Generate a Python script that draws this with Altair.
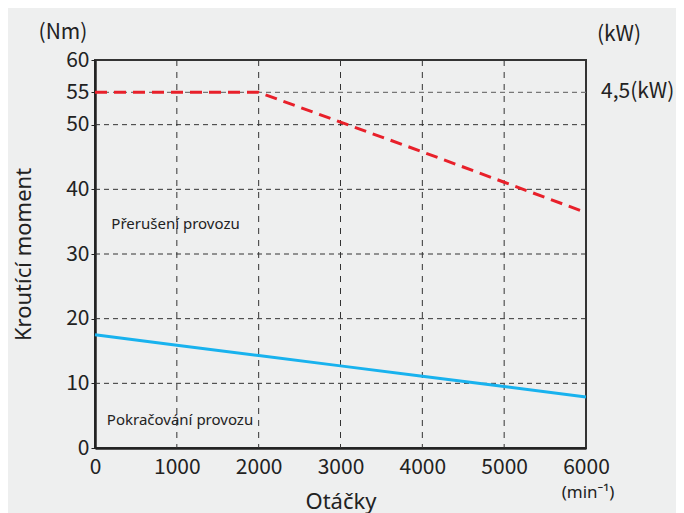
import altair as alt
import pandas as pd

# data
speed = [0, 1000, 2000, 3000, 4000, 5000, 6000]
intermittent = [55, 55, 55, 50.4, 45.8, 41.1, 36.4]
continuous = [17.5, 15.9, 14.3, 12.7, 11.1, 9.5, 7.9]
x_ticks = [0, 1000, 2000, 3000, 4000, 5000, 6000]
y_ticks = [0, 10, 20, 30, 40, 50, 55, 60]
h_grid = [10, 20, 30, 40, 50]
v_grid = [1000, 2000, 3000, 4000, 5000]
power_line = [55]
zone_labels = ["Přerušení provozu", "Pokračování provozu"]
zone_x = [200, 145]
zone_y = [34.6, 4.3]

NUMFONT = "Noto Sans CJK JP"
FONT = "Noto Sans"
W, H = 491, 388

df_red = pd.DataFrame({"rpm": speed, "nm": intermittent})
df_blue = pd.DataFrame({"rpm": speed, "nm": continuous})

xs = alt.Scale(domain=[0, 6000], nice=False, zero=False)
ys = alt.Scale(domain=[0, 60], nice=False, zero=False)

x_axis = alt.Axis(
    values=x_ticks, title="Otáčky", grid=False, ticks=False, labelPadding=8,
    domainColor="#222", domainWidth=2.5, labelFontSize=21, labelColor="#222",
    labelFont=NUMFONT, titleFont=FONT, titleFontSize=22, titleFontWeight="normal",
    titleColor="#222", titlePadding=14, labelFlush=False, format="d")
y_axis = alt.Axis(
    values=y_ticks, title="Kroutící moment", grid=False, tickSize=4, tickColor="#222",
    labelPadding=2, domainColor="#222", domainWidth=2.5, labelFontSize=21,
    labelColor="#222", labelFont=NUMFONT, titleFont=FONT, titleFontSize=22,
    titleFontWeight="normal", titleColor="#222", titlePadding=30, labelFlush=False)

def X():
    return alt.X("rpm:Q", scale=xs, axis=x_axis)

def Y():
    return alt.Y("nm:Q", scale=ys, axis=y_axis)

hg = alt.Chart(pd.DataFrame({"nm": h_grid})).mark_rule(
    color="#333", strokeDash=[5, 4], strokeWidth=1).encode(y=Y())
pg = alt.Chart(pd.DataFrame({"nm": power_line})).mark_rule(
    color="#777", strokeDash=[5, 4], strokeWidth=1.3).encode(y=Y())
vg = alt.Chart(pd.DataFrame({"rpm": v_grid})).mark_rule(
    color="#333", strokeDash=[6, 6], strokeWidth=1).encode(x=X())

red = alt.Chart(df_red).mark_line(color="#e8202a", strokeWidth=3, strokeDash=[12, 7]).encode(
    x=X(), y=Y())
blue = alt.Chart(df_blue).mark_line(color="#18b2ee", strokeWidth=3).encode(x=X(), y=Y())

zones = alt.Chart(pd.DataFrame({"t": zone_labels, "rpm": zone_x, "nm": zone_y})).mark_text(
    align="left", baseline="middle", font=FONT, fontSize=15, color="#222").encode(
    x=X(), y=Y(), text="t:N")

kw_val = alt.Chart(pd.DataFrame({"t": ["4,5(kW)"], "nm": power_line})).mark_text(
    align="left", baseline="middle", font=NUMFONT, fontSize=21, color="#222").encode(
    x=alt.value(506), y=Y(), text="t:N")

def outside(txt, px, py, font=NUMFONT, size=21):
    return alt.Chart(pd.DataFrame({"t": [txt]})).mark_text(
        align="center", baseline="middle", font=font, fontSize=size, color="#222").encode(
        x=alt.value(px), y=alt.value(py), text="t:N")

nm_lbl = outside("(Nm)", -32, -27)
kw_lbl = outside("(kW)", 524, -25)
min_lbl = outside("(min⁻¹)", 493, 433, font=FONT, size=17)

chart = alt.layer(hg, pg, vg, red, blue, zones, kw_val, nm_lbl, kw_lbl, min_lbl).properties(
    width=W, height=H, background="#eeefef",
    padding={"left": 87, "top": 52, "right": 90, "bottom": 65},
    autosize=alt.AutoSizeParams(type="none"),
).configure_view(stroke="#333", strokeWidth=2)

chart.save("out.html", embed_options={"renderer": "svg", "actions": False})
